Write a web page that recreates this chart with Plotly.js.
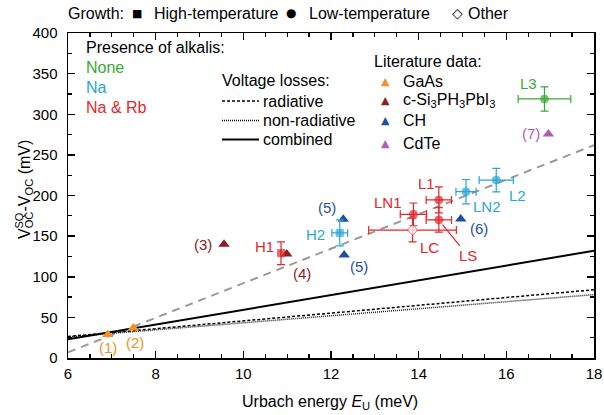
<!DOCTYPE html>
<html><head><meta charset="utf-8">
<script src="https://cdn.plot.ly/plotly-3.0.1.min.js"></script>
<style>html,body{margin:0;padding:0;background:#fff}</style>
</head><body><div id="chart" style="width:604px;height:415px"></div>
<script>
// ---- Our samples ----
const sampleNames   = ['H1','H2','L1','LN1','LS','LC','LN2','L2','L3'];
const sampleEu      = [10.86, 12.2, 14.46, 13.88, 14.46, 13.86, 15.08, 15.77, 16.87];
const sampleEuErr   = [0, 0.18, 0.29, 0.30, 0.29, 1.0, 0.23, 0.39, 0.6];
const sampleLoss    = [129, 154, 194.5, 176.8, 170, 157.5, 204.7, 219, 318.8];
const sampleLossErr = [14, 16, 16, 14, 15, 14.5, 15, 14.5, 15];
const sampleGrowth  = ['High-temperature','High-temperature','Low-temperature','Low-temperature','Low-temperature','Other','Low-temperature','Low-temperature','Low-temperature'];
const sampleAlkali  = ['Na & Rb','Na','Na & Rb','Na & Rb','Na & Rb','Na & Rb','Na','Na','None'];

// ---- Literature data ----
const litLabels   = ['(1)','(2)','(3)','(4)','(5)','(5)','(6)','(7)'];
const litMaterial = ['GaAs','GaAs','c-Si3PH3PbI3','c-Si3PH3PbI3','CH','CH','CH','CdTe'];
const litEu       = [6.91, 7.49, 9.56, 10.99, 12.28, 12.30, 14.96, 16.96];
const litLoss     = [29, 37, 140, 128, 170.7, 126.8, 171, 275.7];

// ---- Voltage-loss lines ----
const lineEu           = [6, 18];
const radiativeLoss    = [26.5, 84];
const nonRadiativeLoss = [26, 78];
const combinedLoss     = [23, 132];
const fitLoss          = [7, 262];

// ---- Categories / legend ----
const alkaliCats   = ['None','Na','Na & Rb'];
const materialCats = ['GaAs','c-Si3PH3PbI3','CH','CdTe'];
const materialLegend = ['GaAs','c-Si<sub>3</sub>PH<sub>3</sub>PbI<sub>3</sub>','CH','CdTe'];

// ---- Styles ----
const FONT = 'Liberation Sans, Arial, sans-serif';
const alkaliColor = {'None':'#3aa935','Na':'#29a6d6','Na & Rb':'#e5262a'};
const materialColor = {'GaAs':'#f39021','c-Si3PH3PbI3':'#8e1c21','CH':'#1f4f9f','CdTe':'#b15db4'};
const growthSymbol = {'High-temperature':'square','Low-temperature':'circle','Other':'diamond'};
// label offsets in pixels (x right, y up)
const sampleLabelShift = [[-17,7],[-24,-2],[-12,16],[-25,12],[29,-36],[17,-17],[21,-15],[21,-15],[-16,15]];
const litLabelShift = [[0,-13],[2,-15],[-21,0],[15,-19],[-16,12],[15,-12],[18,-9],[-17,0]];

const traces = [];
// lines
traces.push({x:lineEu, y:fitLoss, mode:'lines', line:{color:'#9a9a9a', width:2, dash:'8px,6px'}, hoverinfo:'skip'});
traces.push({x:lineEu, y:nonRadiativeLoss, mode:'lines', line:{color:'#222', width:1.5, dash:'1px,1px'}, hoverinfo:'skip'});
traces.push({x:lineEu, y:radiativeLoss, mode:'lines', line:{color:'#000', width:1.5, dash:'3px,2px'}, hoverinfo:'skip'});
traces.push({x:lineEu, y:combinedLoss, mode:'lines', line:{color:'#000', width:2}, hoverinfo:'skip'});

// literature triangles
materialCats.forEach(m => {
  const idx = litMaterial.map((v,i)=>v===m?i:-1).filter(i=>i>=0);
  traces.push({x:idx.map(i=>litEu[i]), y:idx.map(i=>litLoss[i]), mode:'markers', cliponaxis:false,
    marker:{symbol:'triangle-up', size:10, color:materialColor[m]}});
});
// our samples
alkaliCats.forEach(a => {
  const idx = sampleAlkali.map((v,i)=>v===a?i:-1).filter(i=>i>=0);
  const c = alkaliColor[a];
  traces.push({x:idx.map(i=>sampleEu[i]), y:idx.map(i=>sampleLoss[i]), mode:'markers',
    error_x:{type:'data', array:idx.map(i=>sampleEuErr[i]), color:c, thickness:1.2, width:4},
    error_y:{type:'data', array:idx.map(i=>sampleLossErr[i]), color:c, thickness:1.2, width:4},
    marker:{symbol:idx.map(i=>growthSymbol[sampleGrowth[i]]), size:idx.map(i=>sampleGrowth[i]==='High-temperature'?7:8),
      color:idx.map(i=>sampleGrowth[i]==='Other'?'#ffffff':c), line:{color:c, width:1}}});
});

const ann = [];
// sample labels
sampleNames.forEach((n,i)=>{
  const c = alkaliColor[sampleAlkali[i]];
  if (n==='LS') {
    ann.push({x:sampleEu[i], y:sampleLoss[i], xref:'x', yref:'y', text:n, showarrow:true, arrowhead:0,
      arrowwidth:1.2, arrowcolor:c, ax:sampleLabelShift[i][0], ay:-sampleLabelShift[i][1], standoff:6,
      font:{family:FONT, size:15, color:c}});
  } else {
    ann.push({x:sampleEu[i], y:sampleLoss[i], xref:'x', yref:'y', text:n, showarrow:false,
      xshift:sampleLabelShift[i][0], yshift:sampleLabelShift[i][1], font:{family:FONT, size:15, color:c}});
  }
});
litLabels.forEach((n,i)=>{
  ann.push({x:litEu[i], y:litLoss[i], xref:'x', yref:'y', text:n, showarrow:false,
    xshift:litLabelShift[i][0], yshift:litLabelShift[i][1], font:{family:FONT, size:15, color:materialColor[litMaterial[i]]}});
});

// helper for paper-positioned text
function ptxt(px, py, text, opts) {
  return Object.assign({xref:'paper', yref:'paper', x:(px-68)/526, y:(358-py)/325, text:text, showarrow:false,
    xanchor:'left', yanchor:'middle', font:{family:FONT, size:15, color:'#000'}}, opts||{});
}
// top growth legend
ann.push(ptxt(66, 13, 'Growth:', {font:{family:FONT, size:16, color:'#000'}}));
ann.push(ptxt(137, 13, '■', {xanchor:'center', font:{family:'DejaVu Sans', size:11, color:'#000'}}));
ann.push(ptxt(152, 13, 'High-temperature', {font:{family:FONT, size:16, color:'#000'}}));
ann.push(ptxt(291, 13, '●', {xanchor:'center', font:{family:'DejaVu Sans', size:12, color:'#000'}}));
ann.push(ptxt(307, 13, 'Low-temperature', {font:{family:FONT, size:16, color:'#000'}}));
ann.push(ptxt(457, 13, '◇', {xanchor:'center', font:{family:'DejaVu Sans', size:14, color:'#000'}}));
ann.push(ptxt(466, 13, 'Other', {font:{family:FONT, size:16, color:'#000'}}));
// alkalis legend
ann.push(ptxt(84, 48, 'Presence of alkalis:', {font:{family:FONT, size:16, color:'#000'}}));
alkaliCats.forEach((a,k)=>{ ann.push(ptxt(84, 68+k*19.7, a, {font:{family:FONT, size:16, color:alkaliColor[a]}})); });
// voltage losses legend
ann.push(ptxt(220, 80, 'Voltage losses:', {font:{family:FONT, size:16, color:'#000'}}));
const lossNames = ['radiative','non-radiative','combined'];
const lossY = [101, 120.5, 139.5];
lossNames.forEach((n,k)=>ann.push(ptxt(261, lossY[k], n, {font:{family:FONT, size:16, color:'#000'}})));
// literature legend
ann.push(ptxt(372, 61.5, 'Literature data:', {font:{family:FONT, size:16, color:'#000'}}));
const litLegY = [81.7, 100.5, 120.5, 143.5];
materialCats.forEach((m,k)=>{
  ann.push(ptxt(385, litLegY[k], '▲', {xanchor:'center', font:{family:'DejaVu Sans', size:11, color:materialColor[m]}}));
  ann.push(ptxt(401, litLegY[k], materialLegend[k], {font:{family:FONT, size:16, color:'#000'}}));
});
// axis titles
ann.push(ptxt(330, 402, 'Urbach energy <i>E</i><sub>U</sub> (meV)', {xanchor:'center', font:{family:FONT, size:16, color:'#000'}}));
ann.push(ptxt(25, 190, 'V<sub>OC</sub>-V<sub>OC</sub> (mV)', {xanchor:'center', textangle:-90, font:{family:FONT, size:16, color:'#000'}}));
ann.push(ptxt(18.5, 221, 'SQ', {xanchor:'center', textangle:-90, font:{family:FONT, size:11, color:'#000'}}));

const shapes = [];
const lossDash = ['3px,2px','1px,1px','solid'];
const lossW = [1.5,1.5,2];
lossY.forEach((y,k)=>shapes.push({type:'line', xref:'paper', yref:'paper', x0:(222-68)/526, x1:(259-68)/526,
  y0:(358-y)/325, y1:(358-y)/325, line:{color:'#000', width:lossW[k], dash:lossDash[k]}}));

const axisCommon = {showgrid:false, zeroline:false, showline:true, linecolor:'#000', linewidth:1.5, mirror:'allticks',
  ticks:'inside', ticklen:7, tickwidth:1.5, tickcolor:'#000', tickfont:{family:FONT, size:15, color:'#000'}};
const layout = {
  width:604, height:415, margin:{l:68, r:10, t:33, b:57}, showlegend:false,
  paper_bgcolor:'#fff', plot_bgcolor:'#fff',
  xaxis:Object.assign({}, axisCommon, {range:[6,18], dtick:2, tick0:6, ticklabelstandoff:1,
    minor:{dtick:0.5, ticks:'inside', ticklen:4, tickwidth:1.2, tickcolor:'#000'}}),
  yaxis:Object.assign({}, axisCommon, {range:[0,400], dtick:50, tick0:0, ticklabelstandoff:6,
    minor:{dtick:25, ticks:'inside', ticklen:4, tickwidth:1.2, tickcolor:'#000'}}),
  annotations:ann, shapes:shapes
};
Plotly.newPlot('chart', traces, layout, {displayModeBar:false, staticPlot:true});
</script></body></html>
